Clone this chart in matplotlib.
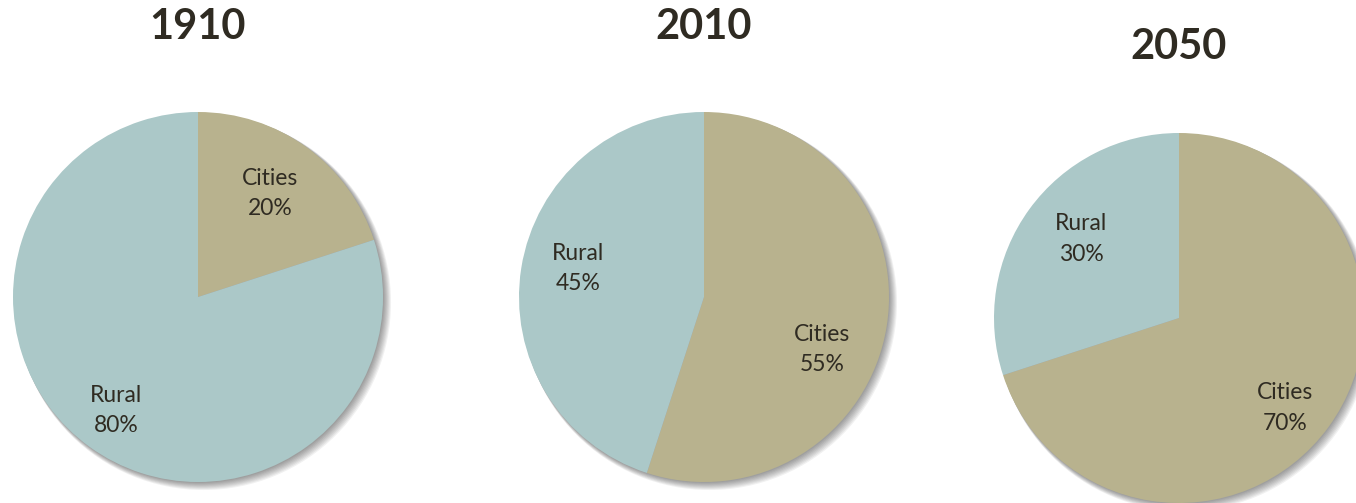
import numpy as np
import matplotlib
matplotlib.use("Agg")
import matplotlib.pyplot as plt
from matplotlib.patches import Circle

# Data
years = ["1910", "2010", "2050"]
categories = ["Cities", "Rural"]
cities_share = [20, 55, 70]
rural_share = [80, 45, 30]

colors = ["#B8B28E", "#ABC8C8"]
text_color = "#2F2B22"

# layout in pixels (center x, center y from top, title y from top)
W, H = 1356, 503
R = 185
centers = [(198, 297), (704, 297), (1179, 318)]
title_y = [27, 27, 47]
LIM = 1.12
# small label nudges in px (dx right, dy down), per pie: (cities, rural)
nudges = [((-4, 1), (-6, 9)), ((-10, 32), (2, -8)), ((1, 14), (7, -3))]

matplotlib.rcParams['font.family'] = ['Lato', 'DejaVu Sans']

fig = plt.figure(figsize=(W / 100, H / 100), dpi=100)

for i, year in enumerate(years):
    cx, cy = centers[i]
    half = LIM * R
    ax = fig.add_axes([(cx - half) / W, (H - cy - half) / H, 2 * half / W, 2 * half / H])
    ax.set_xlim(-LIM, LIM)
    ax.set_ylim(-LIM, LIM)
    ax.set_aspect("equal")
    ax.axis("off")

    # soft drop shadow
    for k in range(8):
        off = 0.005 + k * 0.0035
        ax.add_patch(Circle((off, -off), 1.0 + k * 0.002, color="black",
                            alpha=0.055, lw=0, zorder=0))

    vals = [cities_share[i], rural_share[i]]
    labels = [f"{c}\n{v}%" for c, v in zip(categories, vals)]
    wedges, texts = ax.pie(vals, colors=colors, startangle=90, counterclock=False,
                           labels=labels, labeldistance=0.7, radius=1.0,
                           wedgeprops=dict(linewidth=0, zorder=2),
                           textprops=dict(fontsize=16.5, color=text_color,
                                          ha="center", va="center",
                                          linespacing=1.55))
    for t, (dx, dy) in zip(texts, nudges[i]):
        x, y = t.get_position()
        t.set_position((x + dx / R, y - dy / R))
        t.set_ha("center")
        t.set_zorder(5)
    ax.set_xlim(-LIM, LIM)
    ax.set_ylim(-LIM, LIM)

    fig.text(cx / W, 1 - title_y[i] / H, year, ha="center", va="center",
             fontsize=30, fontweight="bold", color=text_color)

fig.savefig("out.png", dpi=100)
